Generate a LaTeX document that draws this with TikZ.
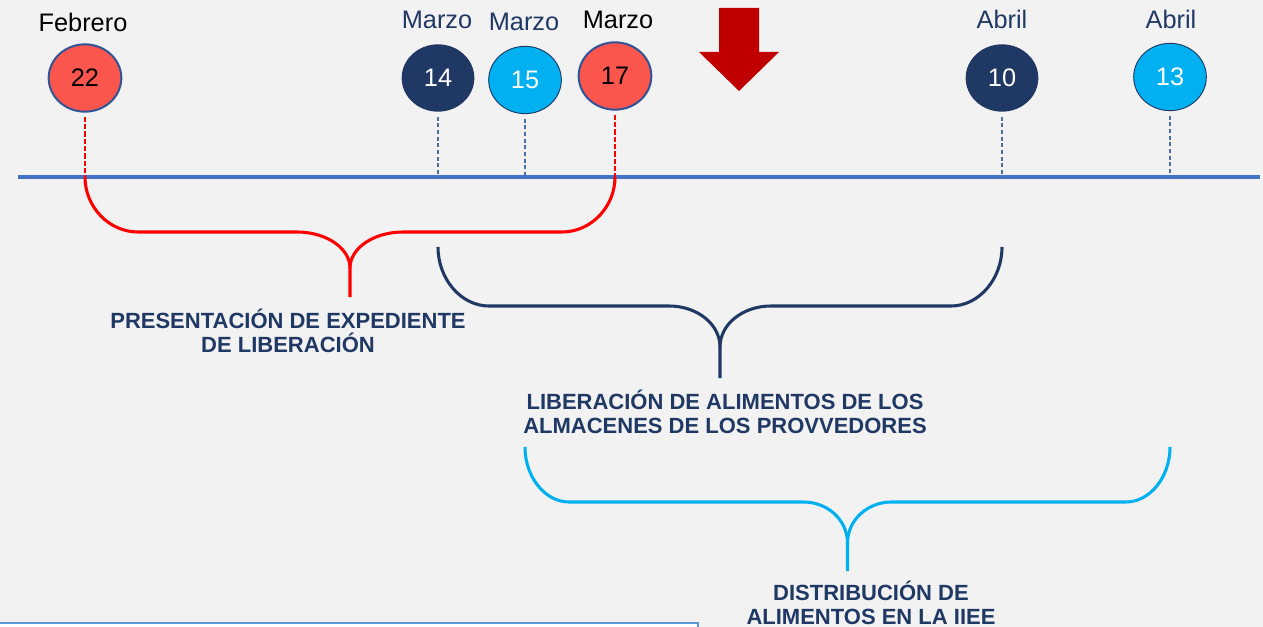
\documentclass[tikz,border=0pt]{standalone}
\usepackage{fontspec}
\setmainfont{Liberation Sans}
\usetikzlibrary{shapes.geometric}
\definecolor{navy}{RGB}{31,56,100}
\definecolor{skyb}{RGB}{0,176,240}
\definecolor{coral}{RGB}{250,86,78}
\definecolor{rimblue}{RGB}{47,85,151}
\definecolor{axisblue}{RGB}{68,114,196}
\definecolor{tickblue}{RGB}{74,111,165}
\definecolor{darkred}{RGB}{192,0,0}
\definecolor{bggray}{RGB}{242,242,242}
\definecolor{boxblue}{RGB}{91,155,213}
\begin{document}
\begin{tikzpicture}[x=0.75pt,y=-0.75pt,
    day/.style={ellipse,minimum width=54.5pt,minimum height=50.5pt,inner sep=0pt,
                font=\fontsize{19}{19}\selectfont},
    redday/.style={day,fill=coral,draw=rimblue,line width=1.5pt,text=black},
    navyday/.style={day,fill=navy,text=white},
    skyday/.style={day,fill=skyb,draw=navy,line width=0.7pt,text=white},
    month/.style={font=\fontsize{19}{19}\selectfont,text=navy},
    tick/.style={densely dashed,line width=1.1pt,tickblue},
    redtick/.style={dash pattern=on 4pt off 1.5pt,line width=2.2pt,red},
    brace/.style={line width=2.3pt},
    task/.style={font=\bfseries\fontsize{16.5}{17.6}\selectfont,text=navy,align=center}]
    \useasboundingbox (0,0) rectangle (1263,627);
    \fill[bggray] (0,0) rectangle (1263,627);

    %the time axis
    \coordinate (a0) at (18,177);
    \coordinate (a1) at (1260,177);
    \draw[axisblue,line width=2.4pt] (a0) -- (a1);

    %the days
    \node[redday]  (c22) at (85,78)   {22};
    \node[navyday] (c14) at (438,78)  {14};
    \node[skyday]  (c15) at (525,80)  {15};
    \node[redday]  (c17) at (615,76)  {17};
    \node[navyday] (c10) at (1002,78) {10};
    \node[skyday]  (c13) at (1170,77) {13};

    \node[month,text=black] (m22) at (83,22)   {Febrero};
    \node[month]            (m14) at (437,20)  {Marzo};
    \node[month]            (m15) at (524,22)  {Marzo};
    \node[month,text=black] (m17) at (618,20)  {Marzo};
    \node[month]            (m10) at (1002,19) {Abril};
    \node[month]            (m13) at (1171,19) {Abril};

    %ticks down to the axis
    \draw[redtick] ([yshift=-3pt]c22.south) -- (c22 |- a0);
    \draw[tick]    ([yshift=-3.5pt]c14.south) -- (c14 |- a0);
    \draw[tick]    ([yshift=-3.5pt]c15.south) -- (c15 |- a0);
    \draw[redtick] ([yshift=-3pt]c17.south) -- (c17 |- a0);
    \draw[tick]    ([yshift=-3.5pt]c10.south) -- (c10 |- a0);
    \draw[tick]    ([yshift=-3.5pt]c13.south) -- (c13 |- a0);

    %the arrow
    \fill[darkred] (719,8) -- (759,8) -- (759,52) -- (779,52) -- (739,91)
                   -- (699,52) -- (719,52) -- cycle;

    % 22 - 17
    \draw[brace,red] (c22 |- a0) .. controls +(0,30) and +(-29,0) .. ++(53,55)
        -- ++(159,0) .. controls +(29,0) and +(0,-20) .. ++(53,36) -- ++(0,29);
    \draw[brace,red] (c17 |- a0) .. controls +(0,30) and +(29,0) .. ++(-53,55)
        -- ++(-159,0) .. controls +(-29,0) and +(0,-20) .. ++(-53,36);
    % 14 - 10
    \draw[brace,navy] (c14 |- 0,247) .. controls +(0,32) and +(-28,0) .. ++(51,59)
        -- ++(180,0) .. controls +(28,0) and +(0,-23) .. ++(51,41) -- ++(0,31);
    \draw[brace,navy] (c10 |- 0,247) .. controls +(0,32) and +(28,0) .. ++(-51,59)
        -- ++(-180,0) .. controls +(-28,0) and +(0,-23) .. ++(-51,41);
    % 15 - 13
    \draw[brace,skyb] (c15 |- 0,447) .. controls +(0,30) and +(-24,0) .. ++(44,55)
        -- ++(234.5,0) .. controls +(24,0) and +(0,-23) .. ++(44,41) -- ++(0,28);
    \draw[brace,skyb] (c13 |- 0,447) .. controls +(0,30) and +(24,0) .. ++(-44,55)
        -- ++(-234.5,0) .. controls +(-24,0) and +(0,-23) .. ++(-44,41);

    \node[task] (t1) at (288,331) {PRESENTACIÓN DE EXPEDIENTE\\DE LIBERACIÓN};
    \node[task] (t2) at (725,412) {LIBERACIÓN DE ALIMENTOS DE LOS\\ALMACENES DE LOS PROVVEDORES};
    \node[task] (t3) at (871,603) {DISTRIBUCIÓN DE\\ALIMENTOS EN LA IIEE};

    %box at the bottom
    \draw[boxblue,line width=1.5pt,fill=white] (-5,623) rectangle (698,660);
\end{tikzpicture}
\end{document}
